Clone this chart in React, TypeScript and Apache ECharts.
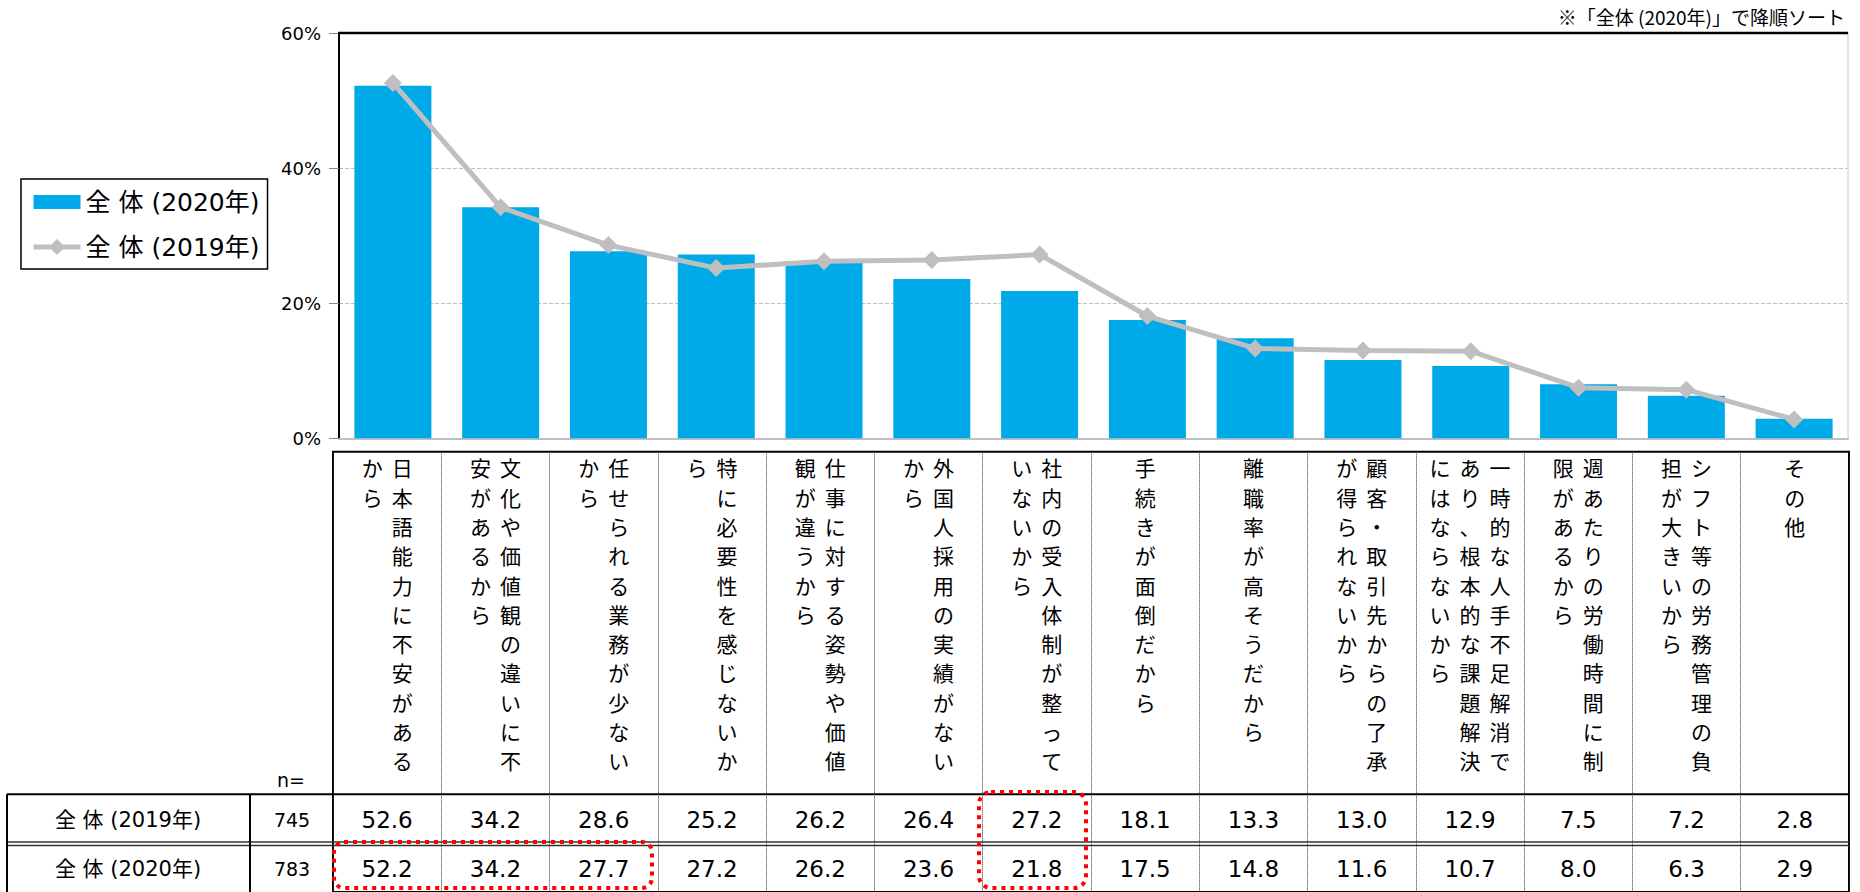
import React, { useEffect, useRef } from 'react';
import * as echarts from 'echarts';

const categories: string[] = [
  '日本語能力に不安があるから',
  '文化や価値観の違いに不安があるから',
  '任せられる業務が少ないから',
  '特に必要性を感じないから',
  '仕事に対する姿勢や価値観が違うから',
  '外国人採用の実績がないから',
  '社内の受入体制が整っていないから',
  '手続きが面倒だから',
  '離職率が高そうだから',
  '顧客・取引先からの了承が得られないから',
  '一時的な人手不足解消であり、根本的な課題解決にはならないから',
  '週あたりの労働時間に制限があるから',
  'シフト等の労務管理の負担が大きいから',
  'その他',
];

const seriesNames: string[] = ['全 体 (2020年)', '全 体 (2019年)'];
const values2020: number[] = [52.2, 34.2, 27.7, 27.2, 26.2, 23.6, 21.8, 17.5, 14.8, 11.6, 10.7, 8.0, 6.3, 2.9];
const values2019: number[] = [52.6, 34.2, 28.6, 25.2, 26.2, 26.4, 27.2, 18.1, 13.3, 13.0, 12.9, 7.5, 7.2, 2.8];
const tableRowNames: string[] = ['全 体 (2019年)', '全 体 (2020年)'];
const tableRowN: number[] = [745, 783];
const yTicks: number[] = [0, 20, 40, 60];
const noteText = '※「全体 (2020年)」で降順ソート';

const COL_LEN = 11;
const CJK = 'Noto Sans CJK JP';
const LATIN = 'DejaVu Sans, Noto Sans CJK JP';

function verticalLabel(s: string): string {
  const chars = Array.from(s);
  const cols: string[][] = [];
  for (let i = 0; i < chars.length; i += COL_LEN) cols.push(chars.slice(i, i + COL_LEN));
  const rows = Math.max(...cols.map((c) => c.length));
  const lines: string[] = [];
  for (let r = 0; r < rows; r++) {
    let line = '';
    for (let c = cols.length - 1; c >= 0; c--) {
      const ch = cols[c][r] ?? '　';
      line += `{v|${ch}}`;
    }
    lines.push(line);
  }
  return lines.join('\n');
}

const PLOT_LEFT = 339;
const PLOT_RIGHT = 1848;
const PLOT_TOP = 33;
const PLOT_BOTTOM = 438.3;
const TABLE_TOP = 451.7;

export default function App() {
  const ref = useRef<HTMLDivElement>(null);

  useEffect(() => {
    document.body.style.margin = '0';
    if (!ref.current) return;
    const chart = echarts.init(ref.current, undefined, { renderer: 'svg' });

    const tableAxisBase = {
      type: 'category',
      gridIndex: 1,
      data: categories,
      position: 'top',
      axisLine: { show: false, onZero: false },
      axisTick: { show: false },
      splitLine: { show: false },
    };

    const valueAxis = (vals: number[], centerY: number) => ({
      ...tableAxisBase,
      axisLabel: {
        inside: true,
        interval: 0,
        margin: centerY - TABLE_TOP,
        verticalAlign: 'middle',
        fontSize: 23,
        fontFamily: LATIN,
        color: '#000',
        formatter: (_v: string, i: number) => vals[i].toFixed(1),
      },
    });

    const option: any = {
      animation: false,
      backgroundColor: '#fff',
      grid: [
        { left: PLOT_LEFT, right: 1860 - PLOT_RIGHT, top: PLOT_TOP, bottom: 892 - PLOT_BOTTOM, show: false },
        { left: 333, right: 11, top: TABLE_TOP, bottom: -4, show: true, borderColor: '#000', borderWidth: 2, backgroundColor: 'transparent' },
      ],
      legend: {
        orient: 'vertical',
        left: 21,
        top: 179,
        padding: [8, 8, 7, 10],
        itemGap: 15,
        itemWidth: 47,
        itemHeight: 20,
        borderColor: '#000',
        borderWidth: 1.5,
        backgroundColor: '#fff',
        lineStyle: { width: 5 },
        textStyle: { fontSize: 25, fontFamily: LATIN, color: '#000', lineHeight: 30 },
        data: [
          { name: seriesNames[0], icon: 'path://M0,0h47v14h-47z' },
          { name: seriesNames[1] },
        ],
      },
      xAxis: [
        {
          type: 'category',
          gridIndex: 0,
          data: categories,
          position: 'bottom',
          axisLine: { show: true, onZero: false, lineStyle: { color: '#BFBFBF', width: 2 } },
          axisTick: { show: false },
          splitLine: { show: false },
          axisLabel: { show: false },
        },
        {
          ...tableAxisBase,
          splitLine: { show: true, interval: 0, lineStyle: { type: 'dotted', color: '#333', width: 1 } },
          axisLabel: {
            inside: true,
            interval: 0,
            margin: 1,
            color: '#000',
            formatter: (v: string) => verticalLabel(v),
            rich: {
              v: { width: 30, align: 'center', fontSize: 21, lineHeight: 29.3, fontFamily: CJK, color: '#000' },
            },
          },
        },
        valueAxis(values2019, 820),
        valueAxis(values2020, 869),
      ],
      yAxis: [
        {
          type: 'value',
          gridIndex: 0,
          min: yTicks[0],
          max: yTicks[yTicks.length - 1],
          interval: yTicks[1] - yTicks[0],
          axisLine: { show: true, onZero: false, lineStyle: { color: '#000', width: 2 } },
          axisTick: { show: true, length: 10, lineStyle: { color: '#888' } },
          axisLabel: { formatter: '{value}%', fontSize: 18, fontFamily: LATIN, color: '#000', margin: 18 },
          splitLine: {
            show: true,
            showMinLine: false,
            showMaxLine: false,
            lineStyle: { type: 'dashed', color: '#BFBFBF', width: 1 },
          },
        },
        {
          type: 'value',
          gridIndex: 0,
          position: 'right',
          min: yTicks[0],
          max: yTicks[yTicks.length - 1],
          axisLine: { show: true, onZero: false, lineStyle: { color: '#D9D9D9', width: 1.5 } },
          axisTick: { show: false },
          axisLabel: { show: false },
          splitLine: { show: false },
        },
        { type: 'value', gridIndex: 1, min: 0, max: 1, show: false },
      ],
      series: [
        {
          name: seriesNames[0],
          type: 'bar',
          xAxisIndex: 0,
          yAxisIndex: 0,
          data: values2020,
          barWidth: 77,
          itemStyle: { color: '#00AAE8' },
        },
        {
          name: seriesNames[1],
          type: 'line',
          xAxisIndex: 0,
          yAxisIndex: 0,
          data: values2019,
          symbol: 'diamond',
          symbolSize: 18,
          z: 6,
          lineStyle: { color: '#BFBFBF', width: 5 },
          itemStyle: { color: '#BFBFBF' },
        },
      ],
      graphic: [
        {
          type: 'line', z: 50,
          shape: { x1: PLOT_LEFT - 1, y1: PLOT_TOP, x2: PLOT_RIGHT, y2: PLOT_TOP },
          style: { stroke: '#000', lineWidth: 2.5 },
        },
        {
          type: 'text', x: 1845, y: 16.7,
          style: { text: noteText, align: 'right', verticalAlign: 'middle', fontSize: 19, fontFamily: CJK, fill: '#000' },
        },
        {
          type: 'text', x: 291, y: 780,
          style: { text: 'n=', align: 'center', verticalAlign: 'middle', fontSize: 19, fontFamily: LATIN, fill: '#000' },
        },
        {
          type: 'text', x: 128, y: 820,
          style: { text: tableRowNames[0], align: 'center', verticalAlign: 'middle', fontSize: 21, fontFamily: LATIN, fill: '#000' },
        },
        {
          type: 'text', x: 128, y: 869,
          style: { text: tableRowNames[1], align: 'center', verticalAlign: 'middle', fontSize: 21, fontFamily: LATIN, fill: '#000' },
        },
        {
          type: 'text', x: 292, y: 820,
          style: { text: String(tableRowN[0]), align: 'center', verticalAlign: 'middle', fontSize: 19, fontFamily: LATIN, fill: '#000' },
        },
        {
          type: 'text', x: 292, y: 869,
          style: { text: String(tableRowN[1]), align: 'center', verticalAlign: 'middle', fontSize: 19, fontFamily: LATIN, fill: '#000' },
        },
        { type: 'line', shape: { x1: 7, y1: 794.3, x2: 1849, y2: 794.3 }, style: { stroke: '#000', lineWidth: 2 } },
        { type: 'line', shape: { x1: 7, y1: 842, x2: 1849, y2: 842 }, style: { stroke: '#333', lineWidth: 1.3 } },
        { type: 'line', shape: { x1: 7, y1: 845.5, x2: 1849, y2: 845.5 }, style: { stroke: '#333', lineWidth: 1.3 } },
        { type: 'line', shape: { x1: 7, y1: 794.3, x2: 7, y2: 892 }, style: { stroke: '#000', lineWidth: 2 } },
        { type: 'line', shape: { x1: 250, y1: 794.3, x2: 250, y2: 892 }, style: { stroke: '#000', lineWidth: 2 } },
        {
          type: 'rect', z: 100,
          shape: { x: 334, y: 842, width: 318, height: 46, r: 10 },
          style: { fill: 'none', stroke: '#FF0000', lineWidth: 4, lineDash: [4, 5] },
        },
        {
          type: 'rect', z: 100,
          shape: { x: 979, y: 792, width: 107, height: 96, r: 12 },
          style: { fill: 'none', stroke: '#FF0000', lineWidth: 4, lineDash: [4, 5] },
        },
      ],
    };

    chart.setOption(option);
    return () => chart.dispose();
  }, []);

  return <div ref={ref} style={{ width: 1860, height: 892 }} />;
}
